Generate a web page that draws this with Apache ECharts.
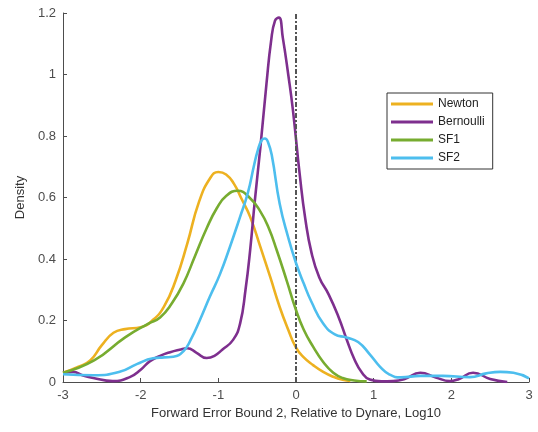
<!DOCTYPE html>
<html><head><meta charset="utf-8">
<script src="https://cdn.jsdelivr.net/npm/echarts@6/dist/echarts.min.js"></script>
<style>html,body{margin:0;padding:0;background:#fff}#c{width:538px;height:432px}</style>
</head><body><div id="c"></div>
<script>
var seriesNames = ['Newton', 'Bernoulli', 'SF1', 'SF2'];
var newton = [[-3,0.03],[-2.8,0.05],[-2.65,0.07],[-2.5,0.12],[-2.35,0.16],[-2.2,0.172],[-2.0,0.178],[-1.85,0.2],[-1.7,0.245],[-1.55,0.33],[-1.4,0.45],[-1.25,0.585],[-1.1,0.665],[-1.0,0.683],[-0.9,0.675],[-0.8,0.645],[-0.7,0.595],[-0.59,0.537],[-0.46,0.44],[-0.33,0.34],[-0.21,0.244],[-0.1,0.17],[0,0.112],[0.1,0.08],[0.22,0.055],[0.35,0.033],[0.48,0.017],[0.6,0.007],[0.7,0.003]];
var bernoulli = [[-3,0.03],[-2.87,0.033],[-2.75,0.022],[-2.61,0.013],[-2.36,0.003],[-2.14,0.016],[-2.0,0.04],[-1.88,0.068],[-1.75,0.085],[-1.62,0.097],[-1.5,0.105],[-1.4,0.11],[-1.28,0.095],[-1.15,0.078],[-1.05,0.085],[-0.95,0.105],[-0.81,0.137],[-0.72,0.19],[-0.65,0.3],[-0.59,0.43],[-0.53,0.59],[-0.46,0.76],[-0.38,0.97],[-0.32,1.11],[-0.27,1.175],[-0.22,1.185],[-0.17,1.12],[-0.1,1.0],[-0.04,0.885],[0.05,0.67],[0.12,0.53],[0.2,0.42],[0.3,0.34],[0.42,0.285],[0.55,0.21],[0.65,0.14],[0.75,0.075],[0.85,0.03],[0.95,0.008],[1.1,0.002],[1.25,0.003],[1.4,0.01],[1.6,0.03],[1.8,0.015],[1.98,0.003],[2.1,0.01],[2.28,0.03],[2.5,0.01],[2.72,0.0]];
var sf1 = [[-3,0.03],[-2.6,0.07],[-2.2,0.145],[-1.9,0.19],[-1.75,0.21],[-1.6,0.255],[-1.45,0.32],[-1.3,0.41],[-1.15,0.5],[-1.02,0.565],[-0.9,0.605],[-0.75,0.622],[-0.6,0.6],[-0.46,0.555],[-0.35,0.5],[-0.25,0.43],[-0.12,0.33],[0,0.234],[0.1,0.17],[0.22,0.115],[0.35,0.065],[0.48,0.03],[0.6,0.013],[0.75,0.005],[0.91,0.002]];
var sf2 = [[-3,0.025],[-2.6,0.022],[-2.27,0.033],[-2.05,0.058],[-1.84,0.077],[-1.7,0.08],[-1.58,0.082],[-1.45,0.1],[-1.35,0.14],[-1.24,0.2],[-1.11,0.277],[-0.98,0.35],[-0.85,0.44],[-0.72,0.537],[-0.62,0.615],[-0.54,0.705],[-0.49,0.755],[-0.44,0.787],[-0.4,0.792],[-0.36,0.78],[-0.31,0.735],[-0.21,0.58],[-0.1,0.47],[0,0.387],[0.1,0.32],[0.2,0.26],[0.35,0.19],[0.5,0.155],[0.65,0.145],[0.8,0.13],[0.95,0.09],[1.08,0.05],[1.2,0.025],[1.35,0.015],[1.6,0.02],[1.89,0.02],[2.24,0.016],[2.45,0.028],[2.63,0.033],[2.8,0.03],[3.0,0.012]];
var refLineX = 0;
var colors = ['#EDB120', '#7E2F8E', '#77AC30', '#4DBEEE'];
var xTicks = {min: -3, max: 3, interval: 1};
var yTicks = {min: 0, max: 1.2, interval: 0.2};

var chart = echarts.init(document.getElementById('c'));
var dataList = [newton, bernoulli, sf1, sf2];
var series = dataList.map(function (d, i) {
  return {
    name: seriesNames[i], type: 'line', data: d, smooth: 0.5, symbol: 'none', showSymbol: false,
    lineStyle: {color: colors[i], width: 2.6}, itemStyle: {color: colors[i]}, z: 3 + i
  };
});
series.push({
  type: 'line', data: [], silent: true,
  markLine: {
    symbol: 'none', silent: true, label: {show: false},
    lineStyle: {color: '#555', width: 2, type: [5, 2, 2, 2]},
    data: [{xAxis: refLineX}]
  }
});
chart.setOption({
  animation: false,
  grid: {left: 63, right: 9, top: 13, bottom: 50},
  textStyle: {fontFamily: 'Liberation Sans, Arial, sans-serif'},
  legend: {
    data: seriesNames.map(function (n) { return {name: n, icon: 'rect'}; }),
    orient: 'vertical', left: 387, top: 93,
    itemWidth: 42, itemHeight: 3, itemGap: 4,
    padding: [4, 8, 4, 4], borderColor: '#333', borderWidth: 1,
    textStyle: {fontSize: 12, color: '#222', padding: [0, 0, 0, 0], lineHeight: 14}
  },
  xAxis: {
    type: 'value', min: xTicks.min, max: xTicks.max, interval: xTicks.interval,
    name: 'Forward Error Bound 2, Relative to Dynare, Log10',
    nameLocation: 'middle', nameGap: 22,
    nameTextStyle: {fontSize: 13, color: '#333'},
    axisLine: {onZero: false, lineStyle: {color: '#4d4d4d', width: 1}},
    axisTick: {inside: true, length: 4, lineStyle: {color: '#4d4d4d'}},
    axisLabel: {fontSize: 13, color: '#4d4d4d', margin: 7},
    splitLine: {show: false}
  },
  yAxis: {
    type: 'value', min: yTicks.min, max: yTicks.max, interval: yTicks.interval,
    name: 'Density', nameLocation: 'middle', nameGap: 33,
    nameTextStyle: {fontSize: 13, color: '#333'},
    axisLine: {show: true, onZero: false, lineStyle: {color: '#4d4d4d', width: 1}},
    axisTick: {show: true, inside: true, length: 4, lineStyle: {color: '#4d4d4d'}},
    axisLabel: {fontSize: 13, color: '#4d4d4d', margin: 7},
    splitLine: {show: false}
  },
  series: series
});
</script></body></html>
